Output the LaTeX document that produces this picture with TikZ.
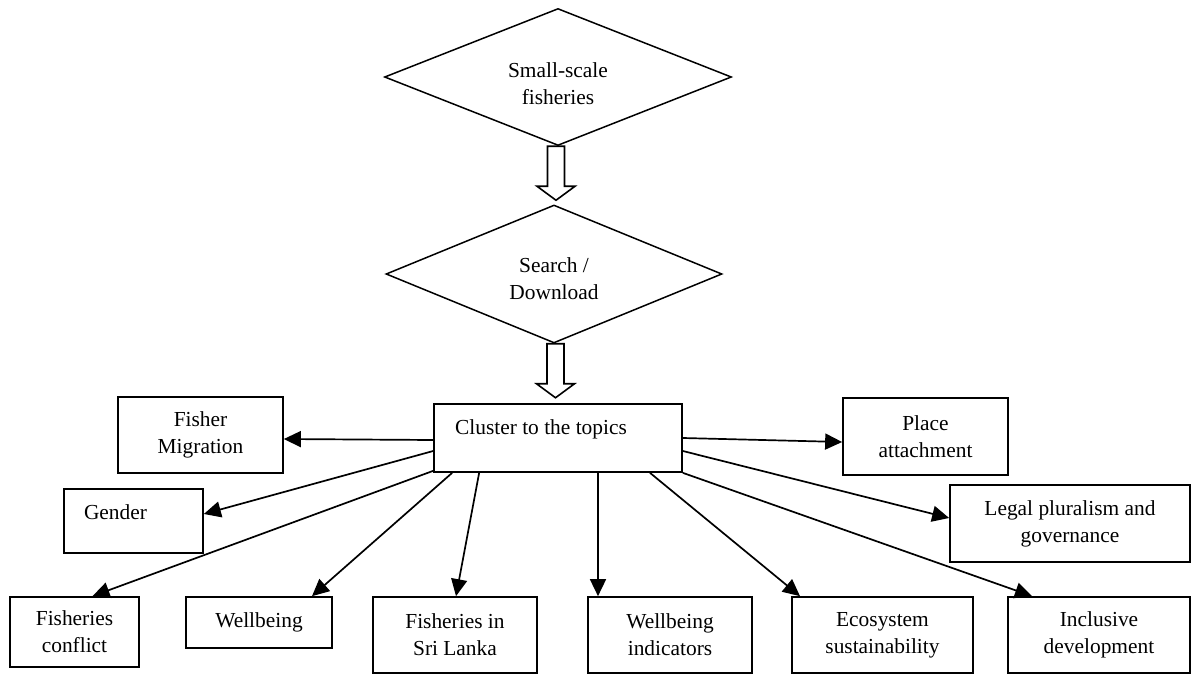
\documentclass[tikz,border=0pt]{standalone}
\usepackage{fontspec}
\setmainfont{Liberation Serif}
\usetikzlibrary{shapes.geometric,arrows.meta,calc}
\begin{document}
\begin{tikzpicture}[x=1pt,y=-1pt,
  font=\fontsize{21.4}{27}\selectfont,
  box/.style={draw,line width=1.7pt,align=center,inner sep=0pt},
  dia/.style={draw,diamond,line width=1.5pt,inner sep=0pt,aspect=2.5},
  conn/.style={line width=1.7pt,-{Triangle[length=17pt,width=16pt]}},
  hollow/.style={draw,line width=1.6pt,fill=white,line join=miter}]
\useasboundingbox (0,0) rectangle (1192,675);

% diamonds
\node[dia,minimum width=347pt,minimum height=137pt] (d1) at (558,77) {};
\node[align=center] (d1t) at (558,84) {Small-scale\\fisheries};
\node[dia,minimum width=336pt,minimum height=138pt] (d2) at (554,274) {};
\node[align=center] (d2t) at (554,279) {Search /\\Download};

% cluster box
\node[box,minimum width=248pt,minimum height=68pt] (cl) at (558,438) {};
\node[anchor=base] (clt) at (541,434) {Cluster to the topics};

% hollow arrows
\coordinate (a1) at ([xshift=-2pt]d1.south);
\draw[hollow] ($(a1)+(-8.5,0)$) -- ($(a1)+(-8.5,40)$) -- ($(a1)+(-19,40)$) -- ($(a1)+(0,54)$)
  -- ($(a1)+(19,40)$) -- ($(a1)+(8.5,40)$) -- ($(a1)+(8.5,0)$) -- cycle;
\coordinate (a2) at ([xshift=1.5pt]d2.south);
\draw[hollow] ($(a2)+(-8.5,0)$) -- ($(a2)+(-8.5,40)$) -- ($(a2)+(-19,40)$) -- ($(a2)+(0,54)$)
  -- ($(a2)+(19,40)$) -- ($(a2)+(8.5,40)$) -- ($(a2)+(8.5,0)$) -- cycle;

% side boxes
\node[box,minimum width=165pt,minimum height=76pt] (fm) at (200.5,435) {Fisher\\Migration};
\node[box,minimum width=139pt,minimum height=64pt] (ge) at (133.5,521) {};
\node[anchor=base] (get) at (115.5,519) {Gender};
\node[box,minimum width=165pt,minimum height=77pt] (pa) at (925.5,436.5) {Place\\attachment};
\node[box,minimum width=240pt,minimum height=77pt] (lp) at (1070,523.5) {Legal pluralism and\\governance};

% bottom row
\node[box,minimum width=129pt,minimum height=70pt] (fc) at (74.5,632) {Fisheries\\conflict};
\node[box,minimum width=146pt,minimum height=51pt] (wb) at (259,622.5) {Wellbeing};
\node[box,minimum width=164pt,minimum height=76pt] (sl) at (455,635) {Fisheries in\\Sri Lanka};
\node[box,minimum width=164pt,minimum height=76pt] (wi) at (670,635) {Wellbeing\\indicators};
\node[box,minimum width=181pt,minimum height=76pt] (es) at (882.5,635) {Ecosystem\\sustainability};
\node[box,minimum width=182pt,minimum height=76pt] (id) at (1099,635) {Inclusive\\development};

% connectors
\draw[conn] ([yshift=-2pt]cl.west) -- ([yshift=-4pt]fm.east);
\draw[conn] ([yshift=-13pt]cl.west) -- ([yshift=7pt]ge.east);
\draw[conn] ([yshift=2pt]cl.south west) -- ([xshift=18pt]fc.north);
\draw[conn] ([xshift=19pt]cl.south west) -- ([xshift=53pt]wb.north);
\draw[conn] ([xshift=46pt]cl.south west) -- ([xshift=1pt]sl.north);
\draw[conn] ([xshift=40pt]cl.south) -- ([xshift=-72pt]wi.north);
\draw[conn] ([xshift=92pt]cl.south) -- ([xshift=-82.5pt]es.north);
\draw[conn] (cl.south east) -- ([xshift=-67pt]id.north);
\draw[conn] (cl.east) -- ([yshift=-5.5pt]pa.west);
\draw[conn] ([yshift=-13pt]cl.east) -- ([yshift=5.5pt]lp.west);
\end{tikzpicture}
\end{document}
